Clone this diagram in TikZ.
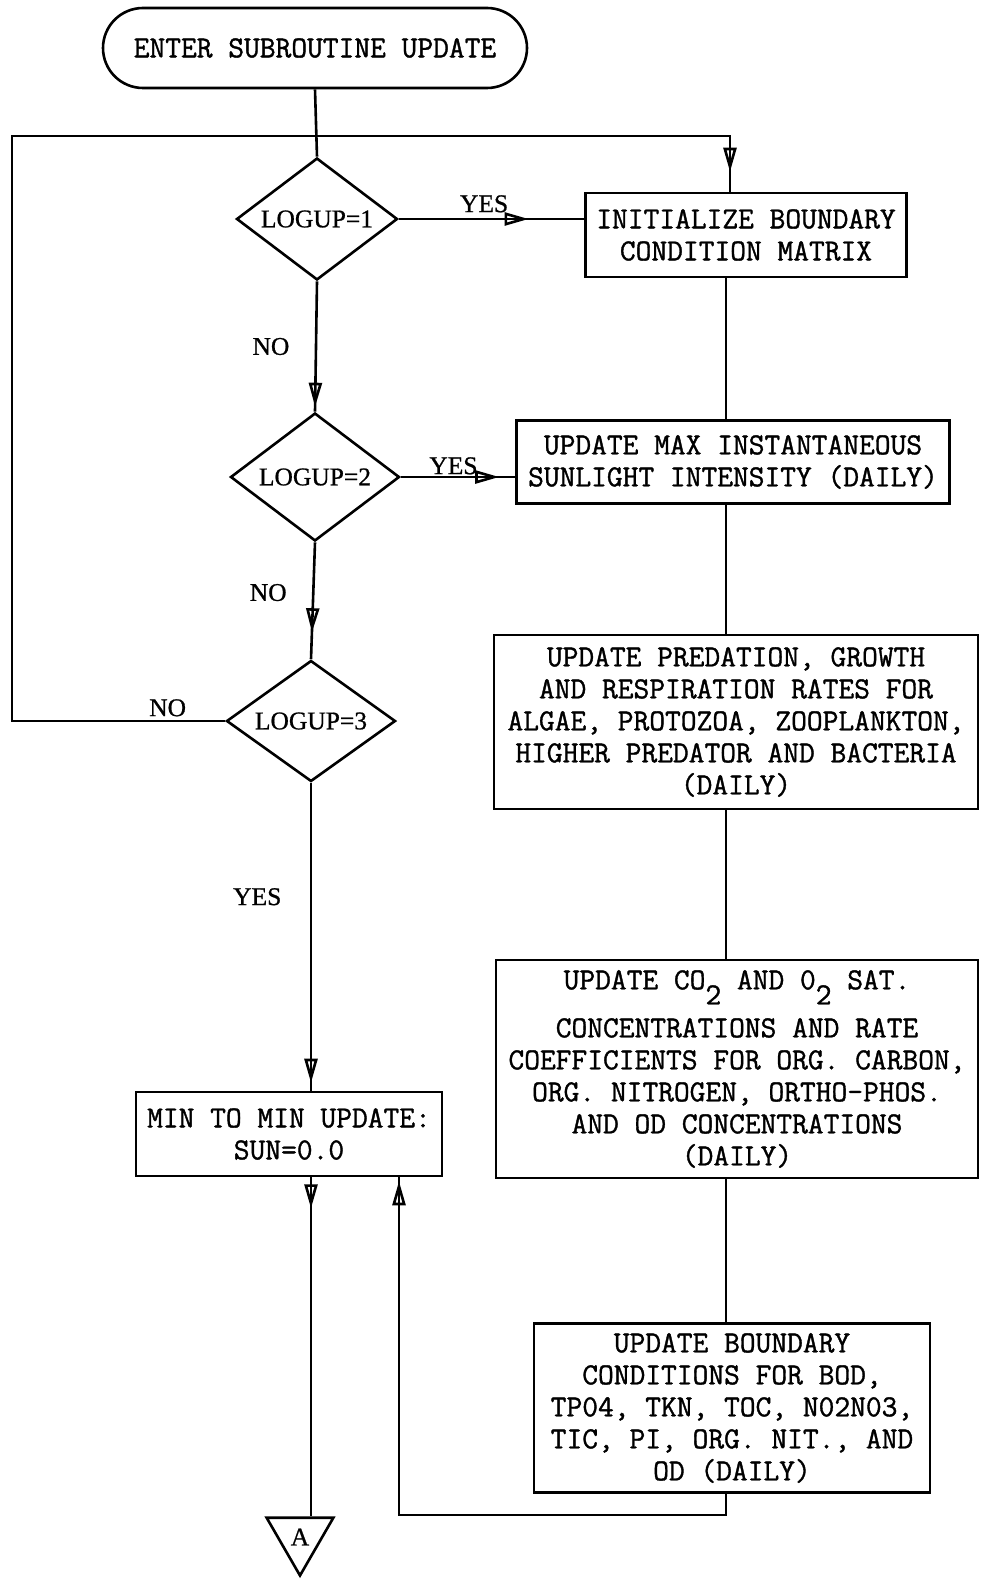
\documentclass[tikz,border=0pt]{standalone}
\usepackage{fontspec}
\setmainfont{Liberation Serif}
\newfontfamily\typerfont{Latin Modern Mono}[FakeBold=1.2]
\newfontfamily\labelfont{Liberation Serif}[FakeBold=0.8]
\usetikzlibrary{arrows.meta,shapes.geometric,decorations.markings}

\newcommand{\boxfont}{\typerfont\fontsize{30.6}{32}\selectfont}
\newcommand{\decfont}{\labelfont\fontsize{25.5}{30}\selectfont}
\newcommand{\lowsub}[1]{\raisebox{-15pt}[0pt][0pt]{#1}}

\begin{document}
\begin{tikzpicture}[x=1pt, y=-1pt,
  box/.style={draw, rectangle, align=center, font=\boxfont, inner sep=0pt},
  dec/.style={draw, diamond, aspect=1.3, inner sep=0pt, font=\decfont},
  lbl/.style={font=\decfont},
  tipat/.style={postaction={decorate}, decoration={markings,
      mark=at position #1 with {\arrow{Triangle[open,length=24pt,width=13pt]}}}},
  line width=2.6pt, line join=miter
]
  \useasboundingbox (0,0) rectangle (988,1581);

  \node[box, rounded corners=40pt, minimum width=424pt, minimum height=80pt] (enter) at (315,48) {ENTER SUBROUTINE UPDATE};

  \node[dec, minimum width=161pt, minimum height=122pt] (log1) at (317,219) {LOGUP=1};
  \node[dec, minimum width=169pt, minimum height=128pt] (log2) at (315,477) {LOGUP=2};
  \node[dec, minimum width=169pt, minimum height=121pt] (log3) at (311,721) {LOGUP=3};

  \node[box, minimum width=321pt, minimum height=84pt]  (init)   at (746,235)  {INITIALIZE BOUNDARY\\CONDITION MATRIX};
  \node[box, minimum width=433pt, minimum height=83pt]  (sun)    at (733,462)  {UPDATE MAX INSTANTANEOUS\\SUNLIGHT INTENSITY (DAILY)};
  \node[box, minimum width=484pt, minimum height=174pt] (rates)  at (736,722)  {UPDATE PREDATION, GROWTH\\AND RESPIRATION RATES FOR\\ALGAE, PROTOZOA, ZOOPLANKTON,\\HIGHER PREDATOR AND BACTERIA\\(DAILY)};
  \node[box, minimum width=482pt, minimum height=218pt] (sat)    at (737,1069) {UPDATE CO\lowsub{2} AND 0\lowsub{2} SAT.\\[16pt]CONCENTRATIONS AND RATE\\COEFFICIENTS FOR ORG. CARBON,\\ORG. NITROGEN, ORTHO-PHOS.\\AND OD CONCENTRATIONS\\(DAILY)};
  \node[box, minimum width=396pt, minimum height=169pt] (bound)  at (732,1408) {UPDATE BOUNDARY\\CONDITIONS FOR BOD,\\TP04, TKN, TOC, N02N03,\\TIC, PI, ORG. NIT., AND\\OD (DAILY)};
  \node[box, minimum width=306pt, minimum height=84pt]  (minupd) at (289,1134) {MIN TO MIN UPDATE:\\SUN=0.0};

  \node[draw, regular polygon, regular polygon sides=3, shape border rotate=180, minimum size=77pt, inner sep=0pt, font=\decfont] (conA) at (300,1537) {A};

  \coordinate (spine) at (726,0);
  \coordinate (loopL) at (12,721);
  \coordinate (loopR) at (730,136);
  \coordinate (ret)   at (399,1515);

  \draw (enter.south) -- (log1.north);
  \draw[tipat=0.7] (log1.east) -- node[lbl, pos=0.46, above=2pt]{YES} (log1.east -| init.west);
  \draw[tipat=-5pt] (log1.south) -- node[lbl, pos=0.5, left=22pt]{NO} (log2.north);
  \draw[tipat=-16pt] (log2.east) -- node[lbl, pos=0.46, above=-2pt]{YES} (log2.east -| sun.west);
  \draw[tipat=-27pt] (log2.south) -- node[lbl, pos=0.43, left=22pt]{NO} (log3.north);
  \draw[tipat=-8pt] (log3.south) -- node[lbl, pos=0.37, left=25pt]{YES} (minupd.north -| log3.south);
  \draw[tipat=-20pt] (log3.west) -- node[lbl, pos=0.27, above]{NO} (loopL) |- (loopR) -- (init.north -| loopR);

  \draw (init.south -| spine) -- (sun.north -| spine);
  \draw (sun.south -| spine) -- (rates.north -| spine);
  \draw (rates.south -| spine) -- (sat.north -| spine);
  \draw (sat.south -| spine) -- (bound.north -| spine);
  \draw[tipat=-4pt] (bound.south -| spine) -- (spine |- ret) -- (ret) -- (minupd.south -| ret);
  \draw[tipat=31pt] (minupd.south -| log3.south) -- (conA.north -| log3.south);
\end{tikzpicture}
\end{document}
